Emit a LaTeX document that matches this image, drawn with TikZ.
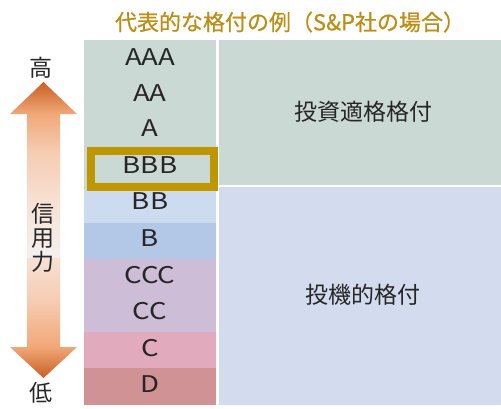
\documentclass[tikz,border=0pt]{standalone}
\usepackage{fontspec}
\setmainfont{Noto Sans CJK JP}
\newfontfamily\ratingfont[FakeStretch=1.2]{Noto Sans CJK JP}
\newfontfamily\titlefont[FakeBold=0.6]{Noto Sans CJK JP}
\definecolor{cgreen}{RGB}{203,217,213}
\definecolor{cbb}{RGB}{205,219,240}
\definecolor{cb}{RGB}{179,200,230}
\definecolor{cpurple}{RGB}{205,189,214}
\definecolor{cpink}{RGB}{226,170,189}
\definecolor{cd}{RGB}{208,146,149}
\definecolor{cblue}{RGB}{210,220,238}
\definecolor{cgold}{RGB}{192,150,0}
\definecolor{ctitle}{RGB}{190,142,20}
\definecolor{sa}{RGB}{244,240,240}
\definecolor{sb}{RGB}{247,225,212}
\definecolor{sc}{RGB}{246,204,178}
\definecolor{sd}{RGB}{241,168,120}
\definecolor{se}{RGB}{200,95,35}
\pgfdeclareverticalshading{upshade}{100bp}{color(0bp)=(sa); color(25bp)=(sa); color(41bp)=(sb); color(55bp)=(sc); color(66bp)=(sd); color(75bp)=(se); color(100bp)=(se)}
\pgfdeclareverticalshading{downshade}{100bp}{color(0bp)=(se); color(25bp)=(se); color(38bp)=(sd); color(57bp)=(sc); color(75bp)=(sb); color(100bp)=(sb)}
\tikzset{
  cell/.style={rectangle, inner sep=0pt, outer sep=0pt, anchor=north west},
  rating/.style={font=\ratingfont\fontsize{23}{25}\selectfont, text=black!85, inner sep=0pt},
  label/.style={font=\fontsize{23}{25}\selectfont, text=black!85, inner sep=0pt},
}
\begin{document}
\begin{tikzpicture}[x=1pt,y=-1pt]
\fill[white] (0,0) rectangle (501,408);
\useasboundingbox (0,0) rectangle (501,408);
% title
\node[font=\titlefont\fontsize{22}{24}\selectfont, text=ctitle, inner sep=0pt] (title) at (290,22) {代表的な格付の例（S\&P社の場合）};
% left column cells
\node[cell, fill=cgreen, minimum width=132pt, minimum height=151pt] (gleft) at (84,40) {};
\node[cell, fill=cbb, minimum width=132pt, minimum height=32pt] (bbcell) at (84,191) {};
\node[cell, fill=cb, minimum width=132pt, minimum height=36pt] (bcell) at (84,223) {};
\node[cell, fill=cpurple, minimum width=132pt, minimum height=73pt] (ccell) at (84,259) {};
\node[cell, fill=cpink, minimum width=132pt, minimum height=36pt] (c1cell) at (84,332) {};
\node[cell, fill=cd, minimum width=132pt, minimum height=37pt] (dcell) at (84,368) {};
% right column
\node[cell, fill=cgreen, minimum width=282pt, minimum height=145pt] (inv) at (219,40) {};
\node[cell, fill=cblue, minimum width=282pt, minimum height=218pt] (spec) at (219,187) {};
\node[label] (invt) at (363,112) {投資適格格付};
\node[label] (spect) at (363,295) {投機的格付};
% ratings
\node[rating] (aaa) at (150,57) {AAA};
\node[rating] (aa) at (150,93) {AA};
\node[rating] (a) at (150,128) {A};
\node[rating] (bbb) at (150,165) {BBB};
\node[rating] (bb) at (150,201) {BB};
\node[rating] (b) at (150,238) {B};
\node[rating] (ccc) at (150,275) {CCC};
\node[rating] (cc) at (150,311) {CC};
\node[rating] (c) at (150,348) {C};
\node[rating] (d) at (150,384) {D};
% gold box
\node[draw=cgold, line width=8pt, rectangle, inner sep=0pt, minimum width=123pt, minimum height=36pt] (box) at (152.5,169) {};
% arrows
\path[shading=upshade] (43.5,82) -- (77,114) -- (60,114) -- (60,258) -- (27,258) -- (27,114) -- (10,114) -- cycle;
\path[shading=downshade] (27,258) -- (60,258) -- (60,347) -- (77,347) -- (43.5,378) -- (10,347) -- (27,347) -- cycle;
\node[label] (high) at (41,68) {高};
\node[label] (low) at (41,393) {低};
\node[label, align=center, font=\fontsize{23}{24}\selectfont] (cred) at (43,238) {信\\用\\力};
\end{tikzpicture}
\end{document}
